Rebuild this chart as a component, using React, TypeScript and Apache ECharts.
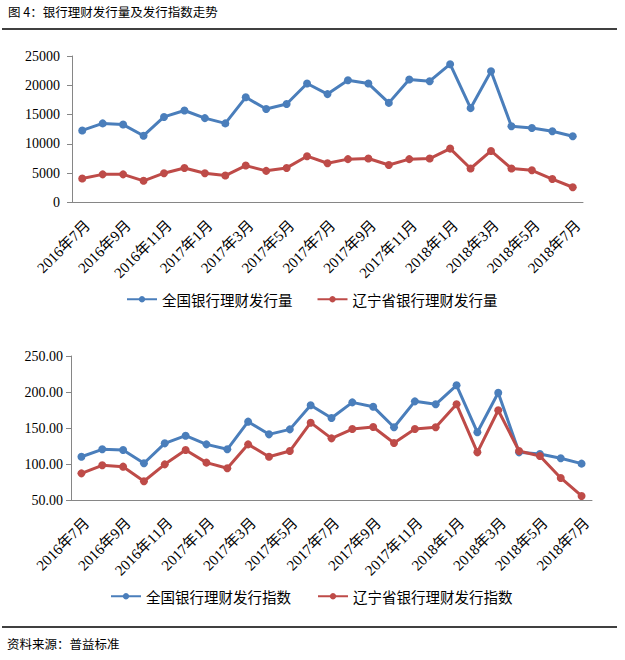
import React, { useEffect, useRef } from "react";
import * as echarts from "echarts";

const categories = [
  "2016年7月", "2016年8月", "2016年9月", "2016年10月", "2016年11月", "2016年12月",
  "2017年1月", "2017年2月", "2017年3月", "2017年4月", "2017年5月", "2017年6月",
  "2017年7月", "2017年8月", "2017年9月", "2017年10月", "2017年11月", "2017年12月",
  "2018年1月", "2018年2月", "2018年3月", "2018年4月", "2018年5月", "2018年6月", "2018年7月",
];

const nationalVolume = [12300, 13500, 13300, 11400, 14600, 15700, 14400, 13500, 17950, 15950, 16800, 20300, 18500, 20850, 20300, 17000, 21000, 20700, 23600, 16100, 22400, 13000, 12700, 12150, 11300];
const liaoningVolume = [4100, 4800, 4800, 3700, 5000, 5900, 5000, 4600, 6300, 5400, 5900, 7900, 6700, 7400, 7500, 6400, 7400, 7500, 9200, 5800, 8800, 5800, 5500, 4000, 2600];
const nationalIndex = [110.1, 120.4, 119.4, 101.0, 128.7, 139.3, 127.3, 120.4, 158.8, 141.2, 148.1, 181.5, 163.9, 185.6, 179.6, 151.0, 187.0, 182.9, 209.3, 144.0, 199.0, 116.2, 113.9, 107.9, 100.5];
const liaoningIndex = [87.0, 98.2, 96.3, 76.0, 99.5, 119.4, 101.9, 94.0, 127.3, 110.1, 118.0, 157.4, 135.6, 148.6, 151.4, 129.2, 148.6, 151.0, 182.9, 116.2, 174.6, 118.0, 111.1, 80.6, 55.6];

const seriesNames = ["全国银行理财发行量", "辽宁省银行理财发行量", "全国银行理财发行指数", "辽宁省银行理财发行指数"];
const titleText = "图 4：银行理财发行量及发行指数走势";
const sourceText = "资料来源：普益标准";

const BLUE = "#4A7EBB";
const RED = "#BE4B48";
const AXIS = "#868686";
const SERIF = "'Liberation Serif', 'Noto Sans CJK SC', serif";
const CJK = "'Noto Sans CJK SC', sans-serif";

export default function App() {
  const ref = useRef<HTMLDivElement>(null);
  useEffect(() => {
    document.body.style.margin = "0";
    const chart = echarts.init(ref.current!, undefined, { renderer: "svg" });
    const xAxisBase = {
      type: "category" as const,
      data: categories,
      boundaryGap: true,
      axisLine: { lineStyle: { color: AXIS, width: 1 } },
      axisTick: { interval: 1, length: 5, lineStyle: { color: AXIS } },
      axisLabel: {
        interval: 1,
        rotate: 45,
        margin: 15,
        align: "right",
        verticalAlign: "top",
        color: "#000",
        fontSize: 15,
        fontFamily: SERIF,
      },
      splitLine: { show: false },
    };
    const yAxisBase = {
      type: "value" as const,
      axisLine: { show: true, lineStyle: { color: AXIS, width: 1 } },
      axisTick: { show: true, length: 5, lineStyle: { color: AXIS } },
      splitLine: { show: false },
    };
    const lineSeries = (name: string, data: number[], color: string, axisIndex: number) => ({
      name,
      type: "line" as const,
      data,
      xAxisIndex: axisIndex,
      yAxisIndex: axisIndex,
      symbol: "circle",
      symbolSize: 8,
      lineStyle: { color, width: 3 },
      itemStyle: { color },
    });
    chart.setOption({
      animation: false,
      grid: [
        { left: 72, top: 56, width: 511, height: 146.5 },
        { left: 71, top: 356, width: 521, height: 144 },
      ],
      xAxis: [
        { ...xAxisBase, gridIndex: 0 },
        { ...xAxisBase, gridIndex: 1 },
      ],
      yAxis: [
        {
          ...yAxisBase,
          gridIndex: 0,
          min: 0,
          max: 25000,
          interval: 5000,
          axisLabel: {
            color: "#000",
            fontSize: 14,
            fontFamily: SERIF,
            margin: 12,
            formatter: (v: number) => String(v),
          },
        },
        {
          ...yAxisBase,
          gridIndex: 1,
          min: 50,
          max: 250,
          interval: 50,
          axisLabel: {
            color: "#000",
            fontSize: 14,
            fontFamily: SERIF,
            margin: 8,
            formatter: (v: number) => v.toFixed(2),
          },
        },
      ],
      legend: [
        {
          data: [seriesNames[0], seriesNames[1]],
          left: 121,
          top: 287,
          itemWidth: 30,
          itemHeight: 8,
          itemGap: 24,
          textStyle: { fontSize: 14.5, fontFamily: CJK, color: "#000" },
        },
        {
          data: [seriesNames[2], seriesNames[3]],
          left: 105,
          top: 584,
          itemWidth: 30,
          itemHeight: 8,
          itemGap: 26,
          textStyle: { fontSize: 14.5, fontFamily: CJK, color: "#000" },
        },
      ],
      series: [
        lineSeries(seriesNames[0], nationalVolume, BLUE, 0),
        lineSeries(seriesNames[1], liaoningVolume, RED, 0),
        lineSeries(seriesNames[2], nationalIndex, BLUE, 1),
        lineSeries(seriesNames[3], liaoningIndex, RED, 1),
      ],
      graphic: [
        {
          type: "text",
          left: 8,
          top: 5,
          style: { text: titleText, fontSize: 12.5, fontFamily: CJK, fill: "#000" },
        },
        {
          type: "line",
          shape: { x1: 2, y1: 29, x2: 617, y2: 29 },
          style: { stroke: "#000", lineWidth: 1.5 },
        },
        {
          type: "line",
          shape: { x1: 2, y1: 627, x2: 617, y2: 627 },
          style: { stroke: "#000", lineWidth: 1.5 },
        },
        {
          type: "text",
          left: 7,
          top: 637,
          style: { text: sourceText, fontSize: 12.5, fontFamily: CJK, fill: "#000" },
        },
      ],
    });
    return () => chart.dispose();
  }, []);
  return <div ref={ref} style={{ width: 625, height: 660 }} />;
}
